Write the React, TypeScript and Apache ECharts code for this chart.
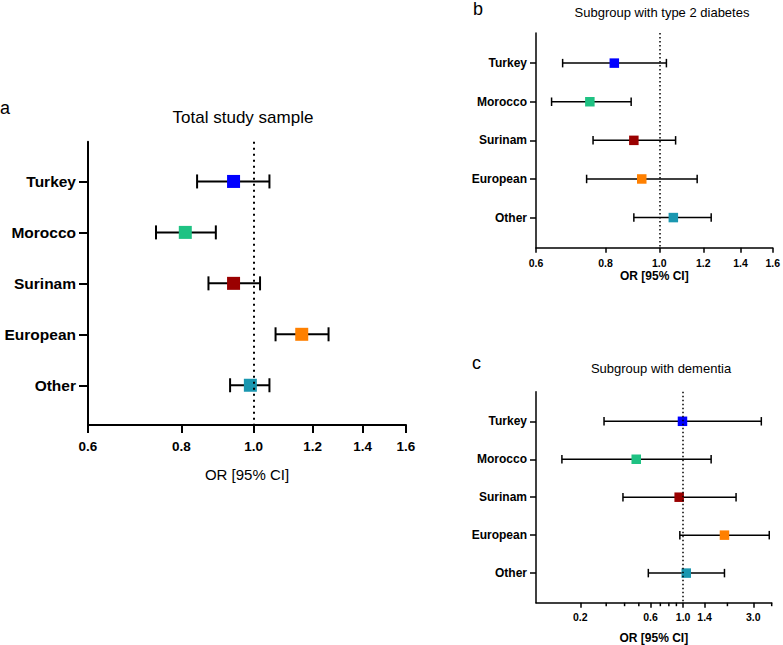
import React, { useEffect, useRef } from "react";
import * as echarts from "echarts";

const categories = ["Turkey", "Morocco", "Surinam", "European", "Other"];
const colors = ["#0000ff", "#1fc283", "#9a0000", "#ff8000", "#1a97b0"];

// Panel a: total study sample
const totalOR = [0.94, 0.81, 0.94, 1.16, 0.99];
const totalLow = [0.84, 0.74, 0.87, 1.07, 0.93];
const totalHigh = [1.05, 0.89, 1.02, 1.26, 1.05];

// Panel b: subgroup with type 2 diabetes
const diabetesOR = [0.83, 0.75, 0.9, 0.93, 1.06];
const diabetesLow = [0.67, 0.64, 0.76, 0.74, 0.9];
const diabetesHigh = [1.03, 0.89, 1.07, 1.17, 1.24];

// Panel c: subgroup with dementia
const dementiaOR = [0.99, 0.48, 0.94, 1.91, 1.05];
const dementiaLow = [0.29, 0.15, 0.39, 0.95, 0.58];
const dementiaHigh = [3.4, 1.55, 2.29, 3.85, 1.91];

const ticksAB = [0.6, 0.8, 1.0, 1.2, 1.4, 1.6];
const labelsC = [0.2, 0.6, 1.0, 1.4, 3.0];
const minorTicksC = [0.3, 0.4, 0.5, 0.7, 0.8, 0.9, 2.0, 4.0];

const FONT = '"Liberation Sans", Arial, Helvetica, sans-serif';
const Y_MIN = 0.22;
const Y_MAX = 5.78;

type Panel = {
  grid: { left: number; top: number; width: number; height: number };
  min: number;
  max: number;
  or: number[];
  low: number[];
  high: number[];
  ticks: number[];
  lw: number;
  marker: number;
  cap: number;
  catFont: number;
  tickFont: number;
  yTickLen: number;
  xTickLen: number;
  yLabelMargin: number;
  xLabelMargin: number;
  nameFont: number;
  nameWeight: string;
  nameGap: number;
  dash: number[];
};

const panels: Panel[] = [
  {
    grid: { left: 88, top: 141.7, width: 318, height: 283.3 },
    min: 0.6, max: 1.6, or: totalOR, low: totalLow, high: totalHigh, ticks: ticksAB,
    lw: 2, marker: 13, cap: 14, catFont: 15.5, tickFont: 13.5, yTickLen: 9, xTickLen: 8,
    yLabelMargin: 12, xLabelMargin: 14, nameFont: 15, nameWeight: "normal", nameGap: 42, dash: [2, 4],
  },
  {
    grid: { left: 536, top: 33, width: 239, height: 214.7 },
    min: 0.6, max: 1.6, or: diabetesOR, low: diabetesLow, high: diabetesHigh, ticks: ticksAB,
    lw: 1.5, marker: 9.5, cap: 8.5, catFont: 12, tickFont: 10.5, yTickLen: 6, xTickLen: 5,
    yLabelMargin: 9, xLabelMargin: 10, nameFont: 12, nameWeight: "bold", nameGap: 22, dash: [1.5, 2.5],
  },
  {
    grid: { left: 536, top: 391.7, width: 235.7, height: 211 },
    min: 0.1, max: 4, or: dementiaOR, low: dementiaLow, high: dementiaHigh, ticks: labelsC,
    lw: 1.5, marker: 9.5, cap: 8.5, catFont: 12, tickFont: 10.5, yTickLen: 6, xTickLen: 5,
    yLabelMargin: 9, xLabelMargin: 9, nameFont: 12, nameWeight: "bold", nameGap: 29, dash: [1.5, 2.5],
  },
];

export default function App() {
  const ref = useRef<HTMLDivElement>(null);

  useEffect(() => {
    if (!ref.current) return;
    const chart = echarts.init(ref.current, undefined, { renderer: "svg" });

    const grids: any[] = [];
    const xAxes: any[] = [];
    const yAxes: any[] = [];
    const series: any[] = [];

    panels.forEach((p, gi) => {
      grids.push({ ...p.grid, containLabel: false });
      xAxes.push({
        type: "log",
        logBase: 10,
        gridIndex: gi,
        min: p.min,
        max: p.max,
        position: "bottom",
        name: "OR [95% CI]",
        nameLocation: "middle",
        nameGap: p.nameGap,
        nameTextStyle: { fontFamily: FONT, fontSize: p.nameFont, fontWeight: p.nameWeight, color: "#000" },
        axisLine: { show: true, lineStyle: { color: "#000", width: p.lw } },
        axisTick: { show: true, customValues: p.ticks, length: p.xTickLen, lineStyle: { color: "#000", width: p.lw } },
        axisLabel: {
          customValues: p.ticks,
          margin: p.xLabelMargin,
          fontFamily: FONT,
          fontSize: p.tickFont,
          fontWeight: "bold",
          color: "#000",
          formatter: (v: number) => Number(v).toFixed(1),
        },
        splitLine: { show: false },
        minorTick: { show: false },
        minorSplitLine: { show: false },
      });
      yAxes.push({
        type: "value",
        gridIndex: gi,
        inverse: true,
        min: Y_MIN,
        max: Y_MAX,
        axisLine: { show: true, lineStyle: { color: "#000", width: p.lw } },
        axisTick: { show: true, customValues: [1, 2, 3, 4, 5], length: p.yTickLen, lineStyle: { color: "#000", width: p.lw } },
        axisLabel: {
          customValues: [1, 2, 3, 4, 5],
          margin: p.yLabelMargin,
          fontFamily: FONT,
          fontSize: p.catFont,
          fontWeight: "bold",
          color: "#000",
          formatter: (v: number) => categories[Math.round(v) - 1] ?? "",
        },
        splitLine: { show: false },
      });

      const lw = p.lw;
      const cap = p.cap;
      series.push({
        type: "custom",
        xAxisIndex: gi,
        yAxisIndex: gi,
        z: 2,
        encode: { x: [0, 1], y: 2 },
        data: categories.map((_, i) => [p.low[i], p.high[i], i + 1]),
        renderItem: (params: any, api: any) => {
          const y = api.value(2);
          const a = api.coord([api.value(0), y]);
          const b = api.coord([api.value(1), y]);
          const h = cap / 2;
          const st = { stroke: "#000", lineWidth: lw };
          return {
            type: "group",
            children: [
              { type: "line", shape: { x1: a[0], y1: a[1], x2: b[0], y2: b[1] }, style: st },
              { type: "line", shape: { x1: a[0], y1: a[1] - h, x2: a[0], y2: a[1] + h }, style: st },
              { type: "line", shape: { x1: b[0], y1: b[1] - h, x2: b[0], y2: b[1] + h }, style: st },
            ],
          };
        },
        markLine: {
          silent: true,
          symbol: "none",
          label: { show: false },
          lineStyle: { color: "#000", width: lw, type: p.dash, cap: "butt" },
          data: [{ xAxis: 1 }],
        },
      });
      series.push({
        type: "scatter",
        xAxisIndex: gi,
        yAxisIndex: gi,
        z: 3,
        symbol: "rect",
        symbolSize: p.marker,
        data: categories.map((_, i) => ({ value: [p.or[i], i + 1], itemStyle: { color: colors[i], opacity: 1 } })),
      });
    });

    // minor ticks on the log axis of panel c, placed through the axis scale
    series.push({
      type: "custom",
      xAxisIndex: 2,
      yAxisIndex: 2,
      silent: true,
      clip: false,
      z: 5,
      encode: { x: 0, y: 1 },
      data: minorTicksC.map((v) => [v, Y_MAX]),
      renderItem: (params: any, api: any) => {
        const pt = api.coord([api.value(0), api.value(1)]);
        return {
          type: "line",
          shape: { x1: pt[0], y1: pt[1], x2: pt[0], y2: pt[1] + 3.5 },
          style: { stroke: "#000", lineWidth: 1.5 },
        };
      },
    });

    const txt = (text: string, x: number, y: number, size: number, align = "left") => ({
      type: "text",
      x,
      y,
      style: { text, fontFamily: FONT, fontSize: size, fill: "#000", align, verticalAlign: "middle" },
    });

    chart.setOption({
      animation: false,
      backgroundColor: "#fff",
      grid: grids,
      xAxis: xAxes,
      yAxis: yAxes,
      series,
      graphic: [
        txt("a", 0, 108, 18),
        txt("Total study sample", 243, 117, 17, "center"),
        txt("b", 473, 9, 18),
        txt("Subgroup with type 2 diabetes", 662, 12, 13, "center"),
        txt("c", 472, 363, 18),
        txt("Subgroup with dementia", 661, 368, 13, "center"),
      ],
    });

    return () => chart.dispose();
  }, []);

  return <div ref={ref} style={{ position: "fixed", left: 0, top: 0, width: 783, height: 645, background: "#fff" }} />;
}
